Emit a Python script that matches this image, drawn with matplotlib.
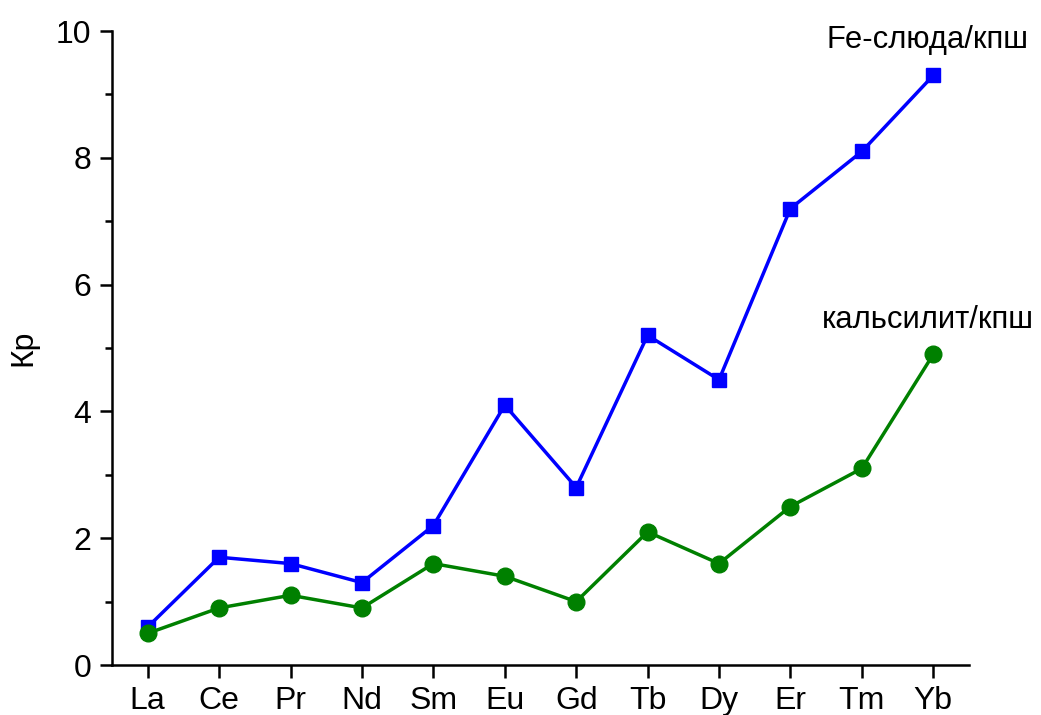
import matplotlib
matplotlib.use("Agg")
import matplotlib.pyplot as plt
from matplotlib.ticker import MultipleLocator

elements = ["La", "Ce", "Pr", "Nd", "Sm", "Eu", "Gd", "Tb", "Dy", "Er", "Tm", "Yb"]
fe_mica = [0.6, 1.7, 1.6, 1.3, 2.2, 4.1, 2.8, 5.2, 4.5, 7.2, 8.1, 9.3]
kalsilite = [0.5, 0.9, 1.1, 0.9, 1.6, 1.4, 1.0, 2.1, 1.6, 2.5, 3.1, 4.9]
fe_label = "Fe-слюда/кпш"
kals_label = "кальсилит/кпш"
y_label = "Кр"

plt.rcParams["font.family"] = ["Liberation Sans", "DejaVu Sans"]

fig = plt.figure(figsize=(10.41, 7.15), dpi=100)
ax = fig.add_axes([0.1076, 0.0699, 0.8232, 0.8867])

x = list(range(len(elements)))
ax.plot(x, fe_mica, color="#0000FF", lw=2.5, marker="s", ms=10.5, zorder=3)
ax.plot(x, kalsilite, color="#008000", lw=2.5, marker="o", ms=12, zorder=3)

ax.text(10.92, 9.86, fe_label, ha="center", va="center", fontsize=22.3)
ax.text(10.92, 5.44, kals_label, ha="center", va="center", fontsize=22.3)

ax.set_xlim(-0.5, 11.5)
ax.set_ylim(0, 10)
ax.set_xticks(x)
ax.set_xticklabels(elements)
ax.yaxis.set_major_locator(MultipleLocator(2))
ax.yaxis.set_minor_locator(MultipleLocator(1))

for side in ("top", "right"):
    ax.spines[side].set_visible(False)
for side in ("left", "bottom"):
    ax.spines[side].set_linewidth(1.8)

ax.tick_params(axis="both", which="major", direction="out", length=9, width=1.8,
               labelsize=23, pad=6)
ax.tick_params(axis="y", which="minor", direction="out", length=5, width=1.8)
ax.tick_params(axis="x", which="minor", length=0)

ax.set_ylabel(y_label, fontsize=23)
ax.yaxis.set_label_coords(-0.086, 0.5)

fig.savefig("out.png", dpi=100)
